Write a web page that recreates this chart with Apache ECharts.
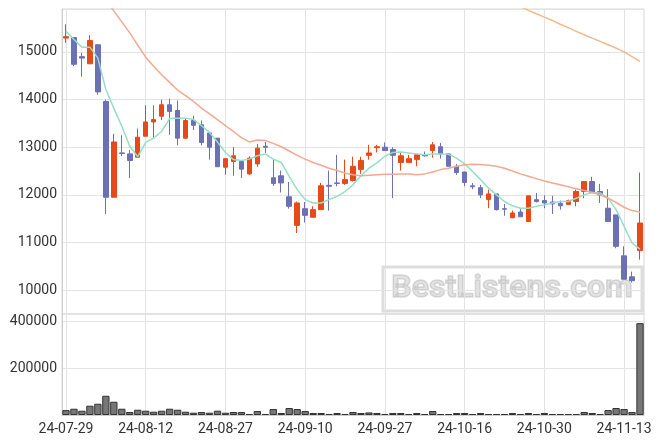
<!DOCTYPE html>
<html>
<head>
<meta charset="utf-8">
<script src="https://cdn.jsdelivr.net/npm/echarts@6/dist/echarts.min.js"></script>
<style>
html,body{margin:0;padding:0;background:#fff;}
#c{width:663px;height:444px;}
</style>
</head>
<body>
<div id="c"></div>
<script>
var dates = ["24-07-29","24-07-30","24-07-31","24-08-01","24-08-02","24-08-05","24-08-06","24-08-07","24-08-08","24-08-09",
"24-08-12","24-08-13","24-08-14","24-08-16","24-08-19","24-08-20","24-08-21","24-08-22","24-08-23","24-08-26",
"24-08-27","24-08-28","24-08-29","24-08-30","24-09-02","24-09-03","24-09-04","24-09-05","24-09-06","24-09-09",
"24-09-10","24-09-11","24-09-12","24-09-13","24-09-19","24-09-20","24-09-23","24-09-24","24-09-25","24-09-26",
"24-09-27","24-09-30","24-10-02","24-10-04","24-10-07","24-10-08","24-10-10","24-10-11","24-10-14","24-10-15",
"24-10-16","24-10-17","24-10-18","24-10-21","24-10-22","24-10-23","24-10-24","24-10-25","24-10-28","24-10-29",
"24-10-30","24-10-31","24-11-01","24-11-04","24-11-05","24-11-06","24-11-07","24-11-08","24-11-11","24-11-12",
"24-11-13","24-11-14","24-11-15"];

var opens = [15290,15300,14900,14750,15150,13960,11950,12880,12860,12790,
13230,13530,13650,13890,13770,13190,13560,13470,13300,13190,
12580,12700,12700,12440,12650,13020,12360,12400,11960,11360,
11710,11530,11690,12200,12250,12240,12300,12530,12830,12990,
13000,12950,12680,12680,12740,12840,12930,13010,12860,12600,
12480,12190,12150,11900,12020,11710,11520,11640,11440,11900,
11880,11850,11820,11800,11860,12070,12280,12070,11720,11580,
10720,10280,10830];
var closes = [15320,14740,14870,15240,14160,11950,13110,12870,12720,13210,
13530,13580,13890,13750,13190,13560,13460,13100,13000,12590,
12760,12820,12540,12770,12980,13000,12240,12250,11760,11830,
11570,11690,12190,12180,12240,12320,12600,12720,12880,13010,
12930,12830,12820,12760,12840,12820,13050,12860,12600,12470,
12260,12170,12000,12020,11690,11700,11620,11540,11980,11860,
11830,11810,11770,11880,12070,12280,12050,12000,11440,10920,
10230,10200,11410];
var lows = [15190,14700,14480,14750,14100,11600,11950,12810,12350,12780,
13230,13200,13570,13260,13040,13170,13360,13040,12740,12590,
12420,12400,12350,12420,12590,12880,12190,12050,11710,11200,
11420,11530,11690,11670,12180,12210,12280,12440,12740,12890,
12930,11930,12510,12680,12600,12800,12780,12760,12600,12420,
12180,12120,11930,11720,11670,11560,11510,11540,11440,11840,
11720,11600,11690,11790,11760,11930,12050,11830,11440,10880,
10230,10160,10640];
var highs = [15580,15300,14980,15350,15150,14000,13280,13250,12940,13390,
13880,13880,14000,14020,13980,13610,13660,13560,13300,13190,
12760,13000,12700,12810,13070,13110,12740,12510,12270,11860,
11850,11760,12250,12510,12840,12740,12800,12800,13050,13050,
13100,13000,12880,12840,12840,12910,13110,13090,12870,12650,
12480,12250,12210,12110,12020,11810,11670,11700,11980,12040,
11990,11980,11880,11900,12110,12280,12380,12230,12120,11580,
10920,10390,12470];
var volumes = [21000,26800,18300,39600,48000,82000,56600,26800,12800,22500,
18300,14000,18300,26800,22500,14000,9800,12800,9800,18300,
9800,12800,12800,4300,17000,4300,25500,8500,29800,25500,
17000,8500,8500,4300,8500,4300,12800,8500,11000,8500,
4300,8500,8500,4300,8500,4300,17000,4300,4300,8500,
8500,4300,8500,4300,4300,4300,8500,4300,8500,4300,
8500,4300,4300,4300,4300,12800,8500,4300,21000,29800,
25500,12800,392000];
var maShort = [15430,15260,15100,15100,14870,14210,13820,13440,13020,12800,
13100,13190,13330,13600,13610,13610,13580,13450,13310,13110,
12890,12740,12720,12750,12820,12860,12750,12680,12390,12110,
11900,11830,11830,11900,11970,12070,12210,12400,12560,12670,
12810,12890,12900,12880,12860,12840,12860,12860,12850,12770,
12650,12490,12320,12140,12000,11860,11770,11720,11720,11760,
11790,11830,11860,11860,11930,12000,12050,12040,11930,11690,
11340,10990,10860];
var maMid = [null,null,null,null,null,16090,15860,15630,15400,15140,
14890,14700,14520,14360,14200,14080,13960,13820,13700,13580,
13450,13330,13200,13110,13150,13140,13080,13010,12920,12830,
12750,12680,12620,12560,12510,12460,12420,12400,12410,12420,
12430,12430,12440,12440,12420,12440,12480,12530,12560,12600,
12630,12640,12635,12620,12600,12560,12500,12440,12390,12340,
12290,12250,12210,12170,12130,12090,12050,12000,11930,11840,
11740,11670,11640];
var maLong = [null,null,null,null,null,null,null,null,null,null,
null,null,null,null,null,null,null,null,null,null,
null,null,null,null,null,null,null,null,null,null,
null,null,null,null,null,null,null,null,null,null,
null,null,null,null,null,null,null,null,null,null,
null,null,null,null,null,null,null,15950,15870,15800,
15730,15660,15580,15510,15430,15360,15290,15220,15150,15080,
15000,14900,14800];

var candles = opens.map(function (o, i) { return [o, closes[i], lows[i], highs[i]]; });

var FONT = 'Roboto';
var labelColor = '#333';
var splitColor = '#e3e3e3';
var axisColor = '#cfcfcf';

var chart = echarts.init(document.getElementById('c'), null, {renderer: 'canvas'});
chart.setOption({
  animation: false,
  backgroundColor: '#fff',
  grid: [
    {left: 62, right: 19, top: 9, bottom: 130, show: true, borderColor: '#d6d6d6', borderWidth: 1},
    {left: 62, right: 19, top: 314, bottom: 29, show: true, borderColor: '#d6d6d6', borderWidth: 1}
  ],
  xAxis: [
    {
      type: 'category', data: dates, gridIndex: 0, boundaryGap: true,
      axisLine: {show: false}, axisTick: {show: false}, axisLabel: {show: false},
      splitLine: {show: true, interval: 9, alignWithLabel: true, lineStyle: {color: splitColor}}
    },
    {
      type: 'category', data: dates, gridIndex: 1, boundaryGap: true,
      axisLine: {show: true, lineStyle: {color: axisColor}}, axisTick: {show: false},
      axisLabel: {interval: 9, fontFamily: FONT, fontSize: 14, color: labelColor, margin: 7},
      splitLine: {show: true, interval: 9, alignWithLabel: true, lineStyle: {color: splitColor}}
    }
  ],
  yAxis: [
    {
      type: 'value', gridIndex: 0, min: 9500, max: 15900, scale: true,
      axisLine: {show: true, lineStyle: {color: axisColor}}, axisTick: {show: false},
      axisLabel: {fontFamily: FONT, fontSize: 14, color: labelColor, margin: 5, showMinLabel: false, showMaxLabel: false,
        formatter: function (v) { return v % 1000 === 0 ? String(v) : ''; }},
      splitLine: {show: true, lineStyle: {color: splitColor}}
    },
    {
      type: 'value', gridIndex: 1, min: 0, max: 431000, interval: 200000,
      axisLine: {show: true, lineStyle: {color: axisColor}}, axisTick: {show: false},
      axisLabel: {fontFamily: FONT, fontSize: 14, color: labelColor, margin: 5, showMinLabel: false, showMaxLabel: false,
        formatter: function (v) { return v % 200000 === 0 ? String(v) : ''; }},
      splitLine: {show: true, lineStyle: {color: splitColor}}
    }
  ],
  graphic: [
    {
      type: 'group', z: 1,
      children: [
        {type: 'rect', shape: {x: 383, y: 267, width: 259, height: 44},
          style: {fill: 'rgba(0,0,0,0)', stroke: 'rgba(170,170,170,0.4)', lineWidth: 3}},
        {type: 'text', x: 512, y: 289,
          style: {text: 'BestListens.com', font: 'bold 32px Roboto', fill: 'rgba(165,165,165,0.32)',
            stroke: 'rgba(150,150,150,0.32)', lineWidth: 1.5, align: 'center', verticalAlign: 'middle'}}
      ]
    }
  ],
  series: [
    {
      type: 'candlestick', xAxisIndex: 0, yAxisIndex: 0, data: candles, barWidth: 5,
      itemStyle: {color: '#E64A19', color0: '#6C70B4', borderColor: '#E64A19', borderColor0: '#6C70B4', borderWidth: 1}
    },
    {type: 'line', xAxisIndex: 0, yAxisIndex: 0, data: maShort, symbol: 'none', smooth: false,
      lineStyle: {color: '#96DEC6', width: 1.5}, z: 3},
    {type: 'line', xAxisIndex: 0, yAxisIndex: 0, data: maMid, symbol: 'none',
      lineStyle: {color: '#F2A98F', width: 1.5}, z: 3},
    {type: 'line', xAxisIndex: 0, yAxisIndex: 0, data: maLong, symbol: 'none',
      lineStyle: {color: '#F1B88C', width: 1.5}, z: 3},
    {type: 'bar', xAxisIndex: 1, yAxisIndex: 1, data: volumes, barCategoryGap: '8%',
      itemStyle: {color: '#777777', borderColor: '#333333', borderWidth: 1}}
  ]
});
</script>
</body>
</html>
